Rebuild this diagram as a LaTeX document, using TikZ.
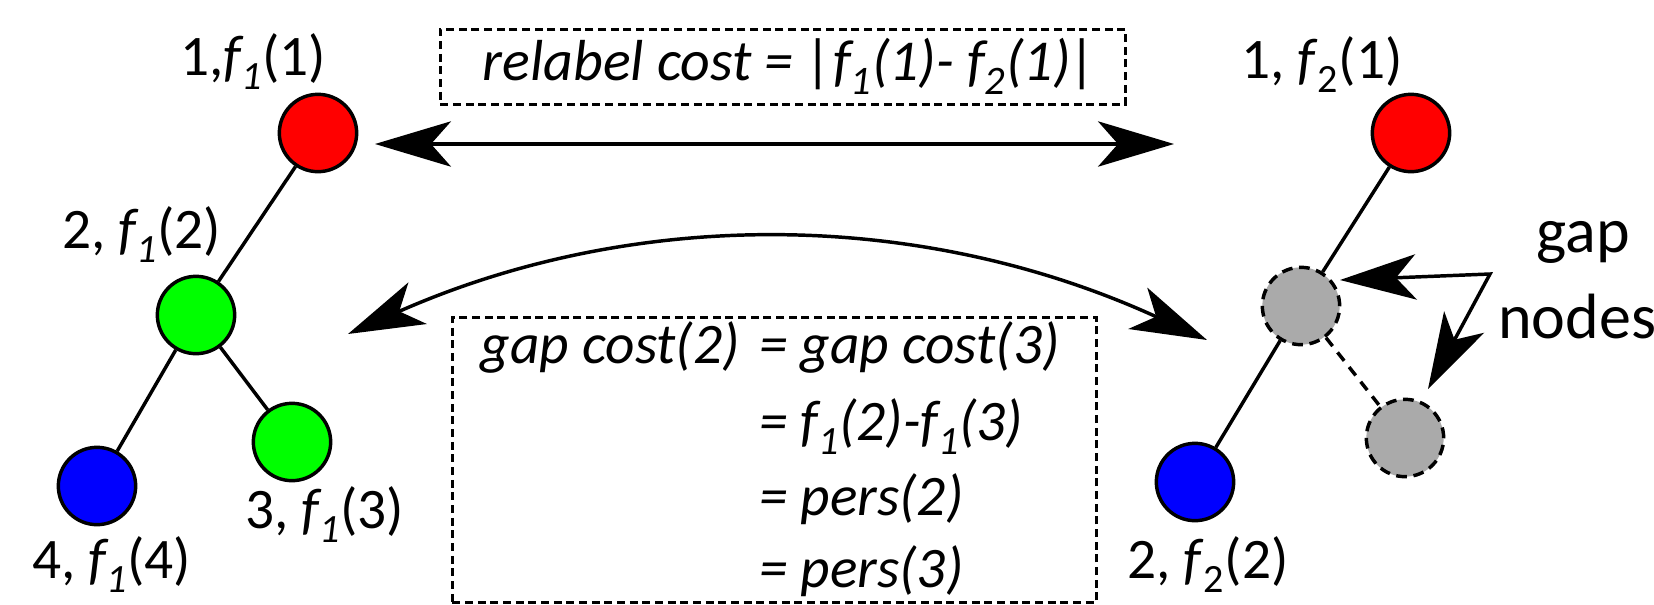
\documentclass[tikz,border=0pt]{standalone}
\usepackage{fontspec}
\setmainfont{Carlito}
\usetikzlibrary{arrows.meta}
\definecolor{nodered}{RGB}{255,0,0}
\definecolor{nodegreen}{RGB}{0,255,0}
\definecolor{nodeblue}{RGB}{0,0,255}
\definecolor{gapgray}{RGB}{170,170,170}
\begin{document}
\begin{tikzpicture}[x=0.75pt,y=-0.75pt,
  tnode/.style={circle,draw=black,line width=2.6pt,minimum size=58pt,inner sep=0pt},
  gapnode/.style={circle,draw=black,fill=gapgray,line width=2.6pt,minimum size=58pt,inner sep=0pt,dash pattern=on 8pt off 5pt},
  treeedge/.style={line width=2.6pt},
  gapedge/.style={line width=2.6pt,dash pattern=on 8pt off 6pt},
  lbl/.style={anchor=base,inner sep=0pt,font=\fontsize{43}{50}\selectfont},
  boxtxt/.style={inner sep=0pt,font=\fontsize{43}{50}\selectfont\itshape},
  dbox/.style={draw=black,line width=2.2pt,dash pattern=on 6pt off 3.5pt,inner sep=0pt,anchor=north west},
  bigarrow/.style={line width=2.6pt,{Stealth[length=57pt,width=34pt,inset=15pt]}-{Stealth[length=57pt,width=34pt,inset=15pt]}}
]
\useasboundingbox (0,0) rectangle (1654,604);

% left tree
\node[tnode,fill=nodered]   (L1) at (318,133) {};
\node[tnode,fill=nodegreen] (L2) at (196,315) {};
\node[tnode,fill=nodegreen] (L3) at (292,442) {};
\node[tnode,fill=nodeblue]  (L4) at (97,486) {};
\draw[treeedge] (L1) -- (L2);
\draw[treeedge] (L2) -- (L4);
\draw[treeedge] (L2) -- (L3);
\node[lbl] (lL1) at (253,75)  {1,\textit{f\textsubscript{1}}(1)};
\node[lbl] (lL2) at (142,248) {2, \textit{f\textsubscript{1}}(2)};
\node[lbl] (lL3) at (325,528) {3, \textit{f\textsubscript{1}}(3)};
\node[lbl] (lL4) at (112,578) {4, \textit{f\textsubscript{1}}(4)};

% right tree
\node[tnode,fill=nodered]  (R1) at (1411,133) {};
\node[gapnode]             (R2) at (1301,306) {};
\node[gapnode]             (R3) at (1405,438) {};
\node[tnode,fill=nodeblue] (R4) at (1195,482) {};
\draw[treeedge] (R1) -- (R2);
\draw[treeedge] (R2) -- (R4);
\draw[gapedge]  (R2) -- (R3);
\node[lbl] (lR1) at (1322,78)  {1, \textit{f}\textsubscript{2}(1)};
\node[lbl] (lR4) at (1208,578) {2, \textit{f}\textsubscript{2}(2)};

% relabel box and arrow
\node[dbox,minimum width=513.75pt,minimum height=56.25pt] (rbox) at (439,28) {};
\node[boxtxt,anchor=base,font=\fontsize{43.4}{50}\selectfont\itshape] (rtxt) at (790,80) {relabel cost = |f\textsubscript{1}(1)- f\textsubscript{2}(1)|};
\coordinate (rl) at (375,144);
\coordinate (rr) at (1174,144);
\draw[bigarrow] (rl) -- (rr);

% curved arrow
\coordinate (cl) at (348,334);
\coordinate (cr) at (1207,340);
\draw[bigarrow] (cl) .. controls (635,207) and (921,209) .. (cr);

% gap box
\node[dbox,minimum width=483pt,minimum height=213.75pt] (gbox) at (451,316) {};
\node[boxtxt,anchor=base east] (g1a) at (740,363) {gap cost(2)};
\node[boxtxt,anchor=base west] (g1b) at (759,363) {= gap cost(3)};
\node[boxtxt,anchor=base west] (g2) at (759,440) {= f\textsubscript{1}(2)-f\textsubscript{1}(3)};
\node[boxtxt,anchor=base west] (g3) at (759,515) {= pers(2)};
\node[boxtxt,anchor=base west] (g4) at (759,587) {= pers(3)};

% gap nodes annotation
\node[lbl,font=\fontsize{48}{58}\selectfont] (gl1) at (1583,252) {gap};
\node[lbl,anchor=base west,font=\fontsize{48}{58}\selectfont] (gl2) at (1498,338) {nodes};
\coordinate (gt1) at (1340,280);
\coordinate (gc) at (1490,274);
\coordinate (gt2) at (1428,389);
\draw[bigarrow] (gt1) -- (gc) -- (gt2);
\end{tikzpicture}
\end{document}
